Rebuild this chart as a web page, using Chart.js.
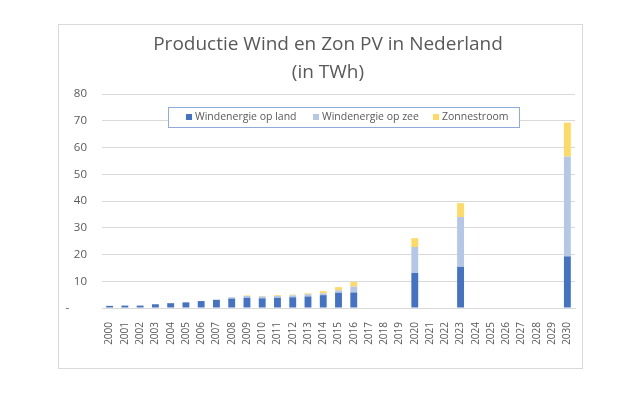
<!DOCTYPE html>
<html>
<head>
<meta charset="utf-8">
<script src="https://cdn.jsdelivr.net/npm/chart.js@4.4.1/dist/chart.umd.min.js"></script>
<style>
  html, body { margin: 0; padding: 0; background: #fff; }
  #wrap { width: 630px; height: 396px; }
</style>
</head>
<body>
<div id="wrap"><canvas id="chart" width="630" height="396"></canvas></div>
<script>
const years = ['2000', '2001', '2002', '2003', '2004', '2005', '2006', '2007', '2008', '2009',
  '2010', '2011', '2012', '2013', '2014', '2015', '2016', '2017', '2018', '2019',
  '2020', '2021', '2022', '2023', '2024', '2025', '2026', '2027', '2028', '2029', '2030'];

const windLand = [0.8, 0.9, 0.9, 1.4, 1.8, 2.1, 2.6, 3.0, 3.5, 3.8,
  3.6, 3.8, 4.0, 4.3, 4.8, 5.7, 5.8, null, null, null,
  13.1, null, null, 15.4, null, null, null, null, null, null, 19.3];

const windZee = [0, 0, 0, 0, 0, 0, 0, 0.2, 0.5, 0.7,
  0.7, 0.7, 0.7, 0.8, 0.7, 0.9, 2.2, null, null, null,
  9.7, null, null, 18.6, null, null, null, null, null, null, 37.3];

const zon = [0, 0, 0, 0, 0, 0, 0, 0.05, 0.1, 0.2,
  0.2, 0.3, 0.3, 0.4, 0.8, 1.2, 1.7, null, null, null,
  3.3, null, null, 5.2, null, null, null, null, null, null, 12.7];

const titleLines = ['Productie Wind en Zon PV in Nederland', '(in TWh)'];
const seriesNames = ['Windenergie op land', 'Windenergie op zee', 'Zonnestroom'];
const seriesColors = ['#4472C4', '#B4C7E7', '#FFD966'];

const textColor = '#595959';
const gridColor = '#D9D9D9';

// white background + thin border round the chart, and the two title lines
const framePlugin = {
  id: 'frame',
  beforeDraw(chart) {
    const ctx = chart.ctx;
    ctx.save();
    ctx.fillStyle = '#fff';
    ctx.fillRect(0, 0, chart.width, chart.height);
    ctx.strokeStyle = '#D9D9D9';
    ctx.lineWidth = 1;
    ctx.strokeRect(58.5, 24.5, 524, 344);
    ctx.fillStyle = textColor;
    ctx.font = '19px "Open Sans"';
    ctx.textAlign = 'center';
    ctx.textBaseline = 'middle';
    titleLines.forEach((t, i) => ctx.fillText(t, 328, 45 + i * 28));
    ctx.restore();
  }
};

// legend box drawn inside the plot area
const boxLegend = {
  id: 'boxLegend',
  afterDraw(chart) {
    const ctx = chart.ctx;
    const itemX = [186, 313, 433];
    ctx.save();
    ctx.fillStyle = '#fff';
    ctx.fillRect(168, 107, 351, 20);
    ctx.strokeStyle = '#8FAADC';
    ctx.lineWidth = 1;
    ctx.strokeRect(168.5, 107.5, 351, 20);
    ctx.font = '10.5px "Open Sans"';
    ctx.textBaseline = 'middle';
    chart.data.datasets.forEach((ds, i) => {
      ctx.fillStyle = ds.backgroundColor;
      ctx.fillRect(itemX[i], 114, 6, 6);
      ctx.fillStyle = textColor;
      ctx.fillText(ds.label, itemX[i] + 9, 117.5);
    });
    ctx.restore();
  }
};

new Chart(document.getElementById('chart'), {
  type: 'bar',
  data: {
    labels: years,
    datasets: [
      {label: seriesNames[0], data: windLand, backgroundColor: seriesColors[0]},
      {label: seriesNames[1], data: windZee, backgroundColor: seriesColors[1]},
      {label: seriesNames[2], data: zon, backgroundColor: seriesColors[2]}
    ]
  },
  options: {
    responsive: false,
    animation: false,
    layout: {padding: {left: 40, right: 55, top: 94, bottom: 0}},
    datasets: {bar: {categoryPercentage: 0.45, barPercentage: 1}},
    plugins: {
      legend: {display: false},
      tooltip: {enabled: false},
      title: {display: false}
    },
    scales: {
      x: {
        stacked: true,
        grid: {display: false},
        border: {color: gridColor},
        ticks: {
          color: textColor,
          font: {family: 'Open Sans', size: 10},
          maxRotation: 90,
          minRotation: 90,
          autoSkip: false,
          padding: 6
        },
        afterFit(scale) { scale.height = 88; }
      },
      y: {
        stacked: true,
        min: 0,
        max: 80,
        grid: {color: gridColor, drawTicks: false},
        border: {display: false},
        ticks: {
          stepSize: 10,
          color: textColor,
          font: {family: 'Open Sans', size: 11.5},
          padding: 15,
          callback: v => v === 0 ? '-      ' : v
        },
        afterFit(scale) { scale.width = 62; }
      }
    }
  },
  plugins: [framePlugin, boxLegend]
});
</script>
</body>
</html>
